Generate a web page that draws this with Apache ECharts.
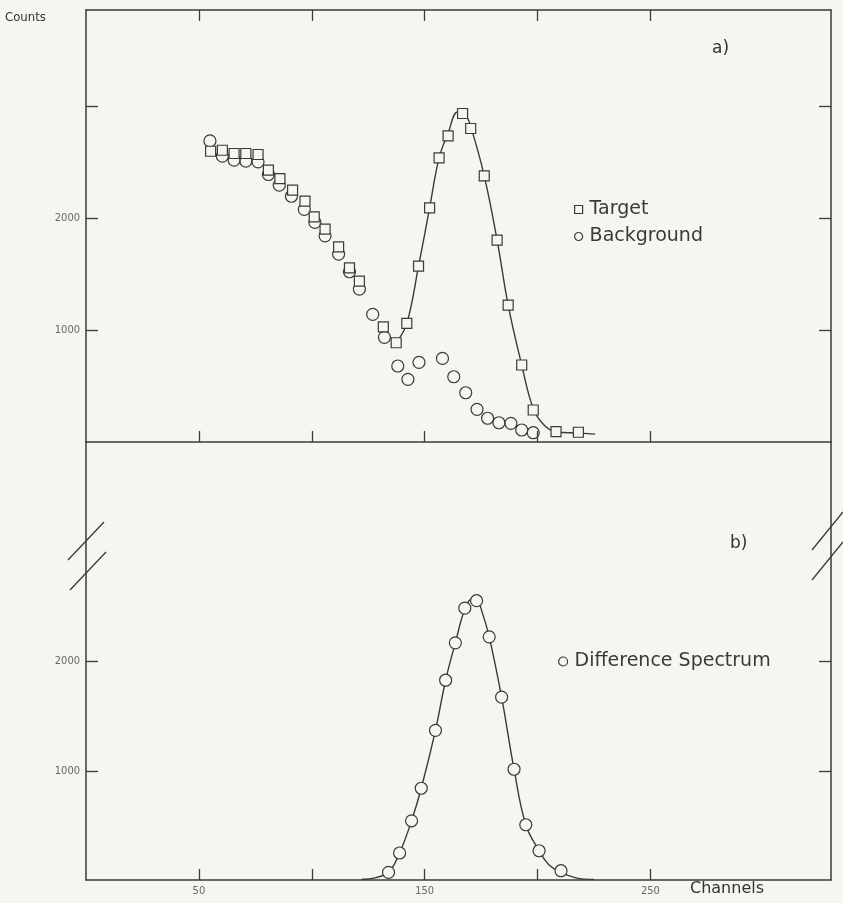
<!DOCTYPE html>
<html>
<head>
<meta charset="utf-8">
<script src="https://cdn.jsdelivr.net/npm/echarts@6/dist/echarts.min.js"></script>
<style>
  html, body { margin: 0; padding: 0; background: #f6f5ef; }
  #chart { width: 843px; height: 903px; }
</style>
</head>
<body>
<div id="chart"></div>
<script>
// panel a) target spectrum (squares)
const targetChannels = [55.2, 60.4, 65.6, 70.8, 76.2, 80.8, 85.9, 91.5, 97, 101.1, 105.9, 111.9, 116.7, 121.1,
  131.7, 137.4, 142.1, 147.3, 152.2, 156.4, 160.4, 166.8, 170.4, 176.4, 182.1, 187, 193, 198.1, 208.2, 218.1];
const targetCounts = [2598, 2607, 2578, 2578, 2569, 2429, 2354, 2250, 2152, 2012, 1902, 1744, 1556, 1438,
  1029, 887, 1060, 1571, 2092, 2538, 2735, 2935, 2801, 2378, 1804, 1223, 688, 286, 92, 87];

// panel a) background spectrum (circles)
const backgroundChannels = [54.9, 60.4, 65.6, 70.8, 76.2, 80.8, 85.6, 91, 96.7, 101.4, 105.9, 111.9, 116.7, 121.1, 127,
  132.2, 138.1, 142.6, 147.5, 157.9, 162.9, 168.2, 173.2, 177.9, 182.9, 188.2, 193, 198.1];
const backgroundCounts = [2690, 2554, 2518, 2509, 2503, 2390, 2295, 2196, 2078, 1962, 1842, 1679, 1521, 1366, 1140,
  935, 679, 560, 712, 747, 583, 440, 292, 212, 172, 167, 107, 83];

// panel a) drawn curve through the target peak
const targetFitChannels = [137.4, 142.1, 147.3, 152.2, 156.4, 160.4, 164.7, 168, 170.4, 176.4, 182.1, 187, 193, 198.1, 203, 208.2, 218, 225.5];
const targetFitCounts = [887, 1060, 1571, 2092, 2538, 2760, 2950, 2925, 2820, 2378, 1804, 1223, 688, 300, 150, 92, 80, 70];

// panel b) difference spectrum (circles) and its curve
const diffChannels = [134, 138.9, 144.2, 148.5, 154.8, 159.3, 163.6, 167.8, 173, 178.6, 184.1, 189.6, 194.8, 200.7, 210.4];
const diffCounts = [70, 247, 542, 840, 1370, 1829, 2171, 2489, 2557, 2226, 1674, 1014, 506, 268, 85];
const diffFitChannels = [122, 128, 134, 138.9, 144.2, 148.5, 154.8, 159.3, 163.6, 167.8, 171, 173, 175.5, 178.6, 184.1, 189.6, 194.8, 200.7, 205, 210.4, 217, 225];
const diffFitCounts = [5, 20, 70, 247, 542, 840, 1370, 1829, 2171, 2480, 2575, 2570, 2450, 2226, 1674, 1014, 506, 268, 140, 70, 20, 5];

const xTicks = [50, 100, 150, 200, 250];
const xLabels = [50, 150, 250];
const yTicksA = [1000, 2000, 3000];
const yTicksB = [1000, 2000];
const yLabels = [1000, 2000];

const ink = '#3a3a3a';
const paper = '#f6f5ef';
const zip = (xs, ys) => xs.map((x, i) => [x, ys[i]]);

const chart = echarts.init(document.getElementById('chart'));

function xAxis(grid, pos, labels) {
  return {
    type: 'value', gridIndex: grid, position: pos, min: 0, max: 330,
    axisLine: { show: true, onZero: false, lineStyle: { color: ink, width: 1.5 } },
    axisTick: { show: true, inside: true, length: 11, customValues: xTicks, lineStyle: { color: ink, width: 1.3 } },
    axisLabel: labels ? {
      show: true, customValues: xLabels, formatter: v => String(v),
      color: '#666', fontSize: 11, margin: 6, fontFamily: 'DejaVu Sans Condensed'
    } : { show: false },
    splitLine: { show: false }
  };
}
function yAxis(grid, pos, max, ticks, labels) {
  return {
    type: 'value', gridIndex: grid, position: pos, min: 0, max: max,
    axisLine: { show: true, onZero: false, lineStyle: { color: ink, width: 1.5 } },
    axisTick: { show: true, inside: true, length: 12, customValues: ticks, lineStyle: { color: ink, width: 1.3 } },
    axisLabel: labels ? {
      show: true, customValues: yLabels, formatter: v => String(v),
      color: '#666', fontSize: 11, margin: 6, fontFamily: 'DejaVu Sans Condensed'
    } : { show: false },
    splitLine: { show: false }
  };
}

chart.setOption({
  backgroundColor: paper,
  animation: false,
  grid: [
    { left: 86, right: 12, top: 10, height: 432, outerBoundsMode: 'none' },
    { left: 86, right: 12, top: 442, height: 438, outerBoundsMode: 'none' }
  ],
  xAxis: [
    xAxis(0, 'bottom', false),
    xAxis(0, 'top', false),
    xAxis(1, 'bottom', true)
  ],
  yAxis: [
    yAxis(0, 'left', 3860, yTicksA, true),
    yAxis(0, 'right', 3860, yTicksA, false),
    yAxis(1, 'left', 4010, yTicksB, true),
    yAxis(1, 'right', 4010, yTicksB, false)
  ],
  legend: [
    {
      orient: 'vertical', left: 569, top: 195, itemWidth: 8, itemHeight: 8, itemGap: 8,
      data: [{ name: 'Target', icon: 'rect' }, { name: 'Background', icon: 'circle' }],
      itemStyle: { color: paper, borderColor: ink, borderWidth: 1.2 },
      textStyle: { fontFamily: 'DejaVu Sans', fontSize: 19, color: '#3a3a3a', padding: [0, 0, 0, 2] }
    },
    {
      orient: 'vertical', left: 553, top: 647, itemWidth: 9, itemHeight: 9,
      data: [{ name: 'Difference Spectrum', icon: 'circle' }],
      itemStyle: { color: paper, borderColor: ink, borderWidth: 1.2 },
      textStyle: { fontFamily: 'DejaVu Sans', fontSize: 19, color: '#3a3a3a', padding: [0, 0, 0, 2] }
    }
  ],
  series: [
    {
      name: 'Target fit', type: 'line', xAxisIndex: 0, yAxisIndex: 0, smooth: 0.4, showSymbol: false,
      lineStyle: { color: ink, width: 1.4 }, data: zip(targetFitChannels, targetFitCounts), z: 2
    },
    {
      name: 'Target', type: 'scatter', xAxisIndex: 0, yAxisIndex: 0, symbol: 'rect', symbolSize: 10,
      itemStyle: { color: paper, borderColor: ink, borderWidth: 1.2, opacity: 1 },
      data: zip(targetChannels, targetCounts), z: 4
    },
    {
      name: 'Background', type: 'scatter', xAxisIndex: 0, yAxisIndex: 0, symbol: 'circle', symbolSize: 12,
      itemStyle: { color: 'rgba(0,0,0,0)', borderColor: ink, borderWidth: 1.2, opacity: 1 },
      data: zip(backgroundChannels, backgroundCounts), z: 3
    },
    {
      name: 'Difference fit', type: 'line', xAxisIndex: 2, yAxisIndex: 2, smooth: 0.4, showSymbol: false,
      lineStyle: { color: ink, width: 1.4 }, data: zip(diffFitChannels, diffFitCounts), z: 2
    },
    {
      name: 'Difference Spectrum', type: 'scatter', xAxisIndex: 2, yAxisIndex: 2, symbol: 'circle', symbolSize: 12,
      itemStyle: { color: paper, borderColor: ink, borderWidth: 1.2, opacity: 1 },
      data: zip(diffChannels, diffCounts), z: 4
    }
  ],
  graphic: [
    { type: 'text', left: 5, top: 11, style: { text: 'Counts', fontFamily: 'DejaVu Sans Condensed', fontSize: 13, fill: '#333' } },
    { type: 'text', left: 712, top: 40, style: { text: 'a)', fontFamily: 'DejaVu Sans', fontSize: 17, fill: '#333' } },
    { type: 'text', left: 730, top: 535, style: { text: 'b)', fontFamily: 'DejaVu Sans', fontSize: 17, fill: '#333' } },
    { type: 'text', left: 690, top: 881, style: { text: 'Channels', fontFamily: 'DejaVu Sans', fontSize: 16, fill: '#333' } },
    // axis break marks
    { type: 'rect', shape: { x: 83, y: 545, width: 6, height: 22 }, style: { fill: paper } },
    { type: 'line', shape: { x1: 68, y1: 560, x2: 104, y2: 522 }, style: { stroke: ink, lineWidth: 1.3 } },
    { type: 'line', shape: { x1: 70, y1: 590, x2: 106, y2: 552 }, style: { stroke: ink, lineWidth: 1.3 } },
    { type: 'rect', shape: { x: 828, y: 535, width: 6, height: 20 }, style: { fill: paper } },
    { type: 'line', shape: { x1: 812, y1: 550, x2: 843, y2: 512 }, style: { stroke: ink, lineWidth: 1.3 } },
    { type: 'line', shape: { x1: 812, y1: 580, x2: 843, y2: 542 }, style: { stroke: ink, lineWidth: 1.3 } }
  ]
});
</script>
</body>
</html>
